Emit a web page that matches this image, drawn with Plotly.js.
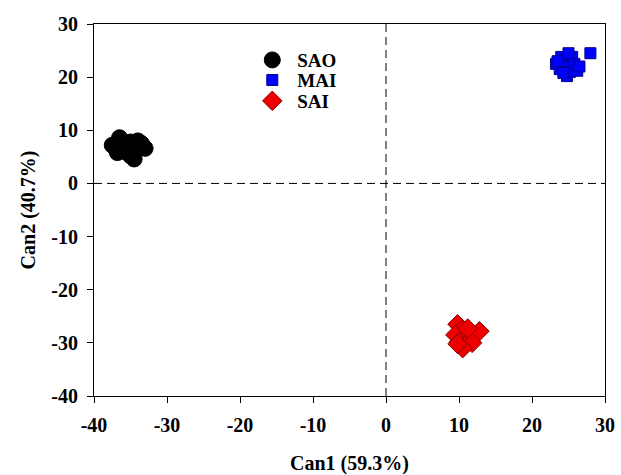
<!DOCTYPE html>
<html>
<head>
<meta charset="utf-8">
<script src="https://cdn.plot.ly/plotly-3.0.1.min.js"></script>
<style>html,body{margin:0;padding:0;background:#fff;}#chart{width:621px;height:475px;}</style>
</head>
<body>
<div id="chart"></div>
<script>
const saoX = [-37.5, -37.0, -36.5, -36.0, -35.8, -35.0, -35.0, -34.5, -34.2, -33.5, -33.0, -36.8, -34.0];
const saoY = [7.2, 6.5, 8.6, 7.5, 6.0, 7.8, 5.2, 4.6, 6.8, 7.5, 6.6, 5.8, 8.0];
const maiX = [23.3, 23.8, 24.0, 24.5, 24.8, 25.2, 25.5, 25.8, 26.2, 25.0, 24.3, 26.5, 28.0, 23.5];
const maiY = [22.5, 21.5, 23.8, 22.0, 20.2, 21.0, 23.8, 22.5, 21.2, 24.5, 20.8, 22.0, 24.5, 23.0];
const saiX = [9.8, 10.5, 11.0, 9.5, 10.0, 10.8, 11.5, 12.0, 12.8, 11.8, 10.5, 9.8, 11.2];
const saiY = [-26.5, -27.5, -28.8, -28.5, -29.8, -30.5, -29.5, -28.5, -27.8, -30.0, -31.0, -30.2, -27.3];
const tickVals = [-40, -30, -20, -10, 0, 10, 20, 30];
const tickLabels = ['-40', '-30', '-20', '-10', '0', '10', '20', '30'];

const fontFam = '"Liberation Serif", "Times New Roman", serif';
const ink = '#000';

const legFont = {family: fontFam, size: 19, color: ink};
const traces = [
  {x: saoX, y: saoY, name: '<b>SAO</b>', type: 'scatter', mode: 'markers', legend: 'legend',
   marker: {symbol: 'circle', size: 16, color: '#000000', line: {color: '#000000', width: 1}}},
  {x: maiX, y: maiY, name: '<b>MAI</b>', type: 'scatter', mode: 'markers', legend: 'legend2',
   marker: {symbol: 'square', size: 11, color: '#0000ff', line: {color: '#00008b', width: 1}}},
  {x: saiX, y: saiY, name: '<b>SAI</b>', type: 'scatter', mode: 'markers', legend: 'legend3',
   marker: {symbol: 'diamond', size: 15, color: '#ee0000', line: {color: '#8b0000', width: 1}}}
];

function leg(y) {
  return {x: 0.30, y: y, xanchor: 'left', yanchor: 'middle', bgcolor: 'rgba(0,0,0,0)',
          itemwidth: 40, font: legFont};
}

const axisCommon = {
  showgrid: false, zeroline: false, showline: true, mirror: true,
  linecolor: '#000', linewidth: 1, ticks: 'outside', ticklen: 6, tickcolor: '#000',
  ticklabelstandoff: 5,
  tickvals: tickVals, ticktext: tickLabels.map(t => '<b>' + t + '</b>'),
  tickfont: {family: fontFam, size: 20, color: ink}
};

const layout = {
  width: 621, height: 475,
  margin: {l: 94, r: 16, t: 24, b: 79},
  paper_bgcolor: '#fff', plot_bgcolor: '#fff',
  font: {family: fontFam, color: ink},
  showlegend: true,
  legend: leg(0.903),
  legend2: leg(0.849),
  legend3: leg(0.793),
  xaxis: Object.assign({}, axisCommon, {range: [-40, 30],
    title: {text: '<b>Can1 (59.3%)</b>', standoff: 22, font: {family: fontFam, size: 20, color: ink}}}),
  yaxis: Object.assign({}, axisCommon, {range: [-40, 30],
    title: {text: '<b>Can2 (40.7%)</b>', standoff: 10, font: {family: fontFam, size: 20, color: ink}}}),
  shapes: [
    {type: 'line', xref: 'x', yref: 'y', x0: 0, x1: 0, y0: -40, y1: 30, line: {color: '#000', width: 1, dash: '8px,5px'}, layer: 'below'},
    {type: 'line', xref: 'x', yref: 'y', x0: -40, x1: 30, y0: 0, y1: 0, line: {color: '#000', width: 1, dash: '8px,5px'}, layer: 'below'}
  ]
};

Plotly.newPlot('chart', traces, layout, {displayModeBar: false, staticPlot: true});
</script>
</body>
</html>
